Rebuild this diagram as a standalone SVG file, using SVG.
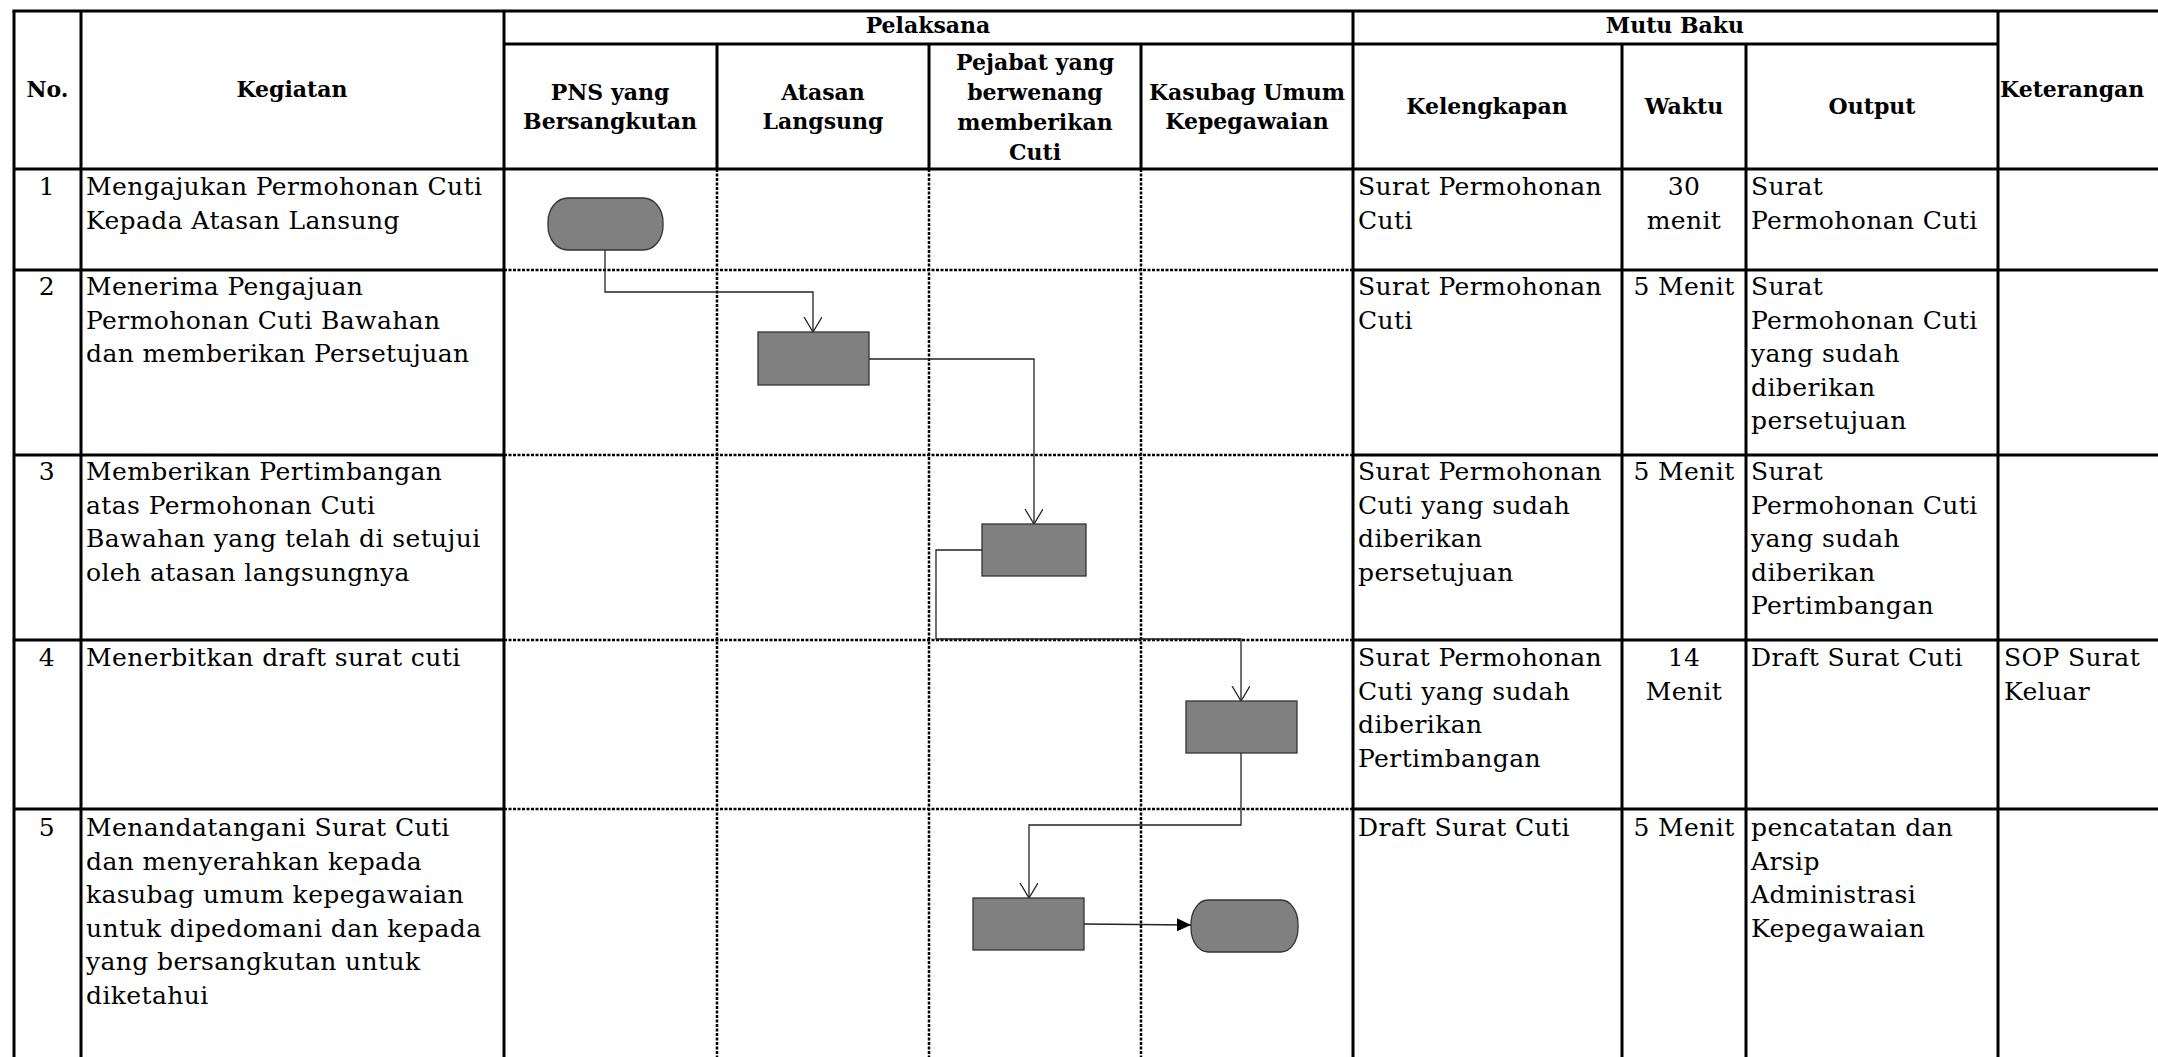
<svg xmlns="http://www.w3.org/2000/svg" width="2158" height="1057" viewBox="0 0 2158 1057">
<style>
.solid{stroke:#000;stroke-width:3;fill:none}
.dot{stroke:#000;stroke-width:2.5;stroke-dasharray:3 1.5;fill:none}
.h{font-family:"DejaVu Serif","Liberation Serif",serif;font-weight:bold;font-size:22px;text-anchor:middle;fill:#000}
.b{font-family:"DejaVu Serif","Liberation Serif",serif;font-size:25px;letter-spacing:0.4px;fill:#000}
.c{text-anchor:middle}
.shape{fill:#808080;stroke:#333;stroke-width:1.3}
.conn{fill:none;stroke:#222;stroke-width:1.3}
</style>
<defs>
<marker id="vArrow" markerWidth="20" markerHeight="20" refX="15" refY="9" orient="auto" markerUnits="userSpaceOnUse">
<path d="M0,0 L15,9 L0,18" fill="none" stroke="#222" stroke-width="1.3"/>
</marker>
<marker id="fArrow" markerWidth="16" markerHeight="14" refX="14" refY="6.5" orient="auto" markerUnits="userSpaceOnUse">
<path d="M0,0 L14,6.5 L0,13 Z" fill="#000"/>
</marker>
</defs>
<rect width="2158" height="1057" fill="#fff"/>

<g id="grid">
<line class="dot" x1="717" y1="169" x2="717" y2="1057"/>
<line class="dot" x1="929" y1="169" x2="929" y2="1057"/>
<line class="dot" x1="1141" y1="169" x2="1141" y2="1057"/>
<line class="dot" x1="504" y1="270" x2="1353" y2="270"/>
<line class="dot" x1="504" y1="455" x2="1353" y2="455"/>
<line class="dot" x1="504" y1="640" x2="1353" y2="640"/>
<line class="dot" x1="504" y1="809" x2="1353" y2="809"/>
<line class="solid" x1="12.5" y1="11" x2="2158" y2="11"/>
<line class="solid" x1="504" y1="44" x2="1998" y2="44"/>
<line class="solid" x1="14" y1="169" x2="2158" y2="169"/>
<line class="solid" x1="14" y1="11" x2="14" y2="1057"/>
<line class="solid" x1="81" y1="11" x2="81" y2="1057"/>
<line class="solid" x1="504" y1="11" x2="504" y2="1057"/>
<line class="solid" x1="1353" y1="11" x2="1353" y2="1057"/>
<line class="solid" x1="1622" y1="44" x2="1622" y2="1057"/>
<line class="solid" x1="1746" y1="44" x2="1746" y2="1057"/>
<line class="solid" x1="1998" y1="11" x2="1998" y2="1057"/>
<line class="solid" x1="717" y1="44" x2="717" y2="169"/>
<line class="solid" x1="929" y1="44" x2="929" y2="169"/>
<line class="solid" x1="1141" y1="44" x2="1141" y2="169"/>
<line class="solid" x1="14" y1="270" x2="504" y2="270"/>
<line class="solid" x1="14" y1="455" x2="504" y2="455"/>
<line class="solid" x1="14" y1="640" x2="504" y2="640"/>
<line class="solid" x1="14" y1="809" x2="504" y2="809"/>
<line class="solid" x1="1353" y1="270" x2="2158" y2="270"/>
<line class="solid" x1="1353" y1="455" x2="2158" y2="455"/>
<line class="solid" x1="1353" y1="640" x2="2158" y2="640"/>
<line class="solid" x1="1353" y1="809" x2="2158" y2="809"/>
</g>

<g id="header">
<text class="h" x="47.5" y="97">No.</text>
<text class="h" x="292" y="97">Kegiatan</text>
<text class="h" x="928" y="33">Pelaksana</text>
<text class="h" x="1675" y="33">Mutu Baku</text>
<text class="h" x="610" y="100">PNS yang<tspan x="610" dy="29">Bersangkutan</tspan></text>
<text class="h" x="823" y="100">Atasan<tspan x="823" dy="29">Langsung</tspan></text>
<text class="h" x="1035" y="70">Pejabat yang<tspan x="1035" dy="30">berwenang</tspan><tspan x="1035" dy="30">memberikan</tspan><tspan x="1035" dy="30">Cuti</tspan></text>
<text class="h" x="1247" y="100">Kasubag Umum<tspan x="1247" dy="29">Kepegawaian</tspan></text>
<text class="h" x="1487" y="114">Kelengkapan</text>
<text class="h" x="1684" y="114">Waktu</text>
<text class="h" x="1872" y="114">Output</text>
<text class="h" x="2000" y="97" style="text-anchor:start">Keterangan</text>
</g>

<g id="row1">
<text class="b c" x="47" y="195">1</text>
<text class="b" x="86" y="195">Mengajukan Permohonan Cuti<tspan x="86" dy="33.5">Kepada Atasan Lansung</tspan></text>
<text class="b" x="1358" y="195">Surat Permohonan<tspan x="1358" dy="33.5">Cuti</tspan></text>
<text class="b c" x="1684" y="195">30<tspan x="1684" dy="33.5">menit</tspan></text>
<text class="b" x="1751" y="195">Surat<tspan x="1751" dy="33.5">Permohonan Cuti</tspan></text>
</g>

<g id="row2">
<text class="b c" x="47" y="295">2</text>
<text class="b" x="86" y="295">Menerima Pengajuan<tspan x="86" dy="33.5">Permohonan Cuti Bawahan</tspan><tspan x="86" dy="33.5">dan memberikan Persetujuan</tspan></text>
<text class="b" x="1358" y="295">Surat Permohonan<tspan x="1358" dy="33.5">Cuti</tspan></text>
<text class="b c" x="1684" y="295">5 Menit</text>
<text class="b" x="1751" y="295">Surat<tspan x="1751" dy="33.5">Permohonan Cuti</tspan><tspan x="1751" dy="33.5">yang sudah</tspan><tspan x="1751" dy="33.5">diberikan</tspan><tspan x="1751" dy="33.5">persetujuan</tspan></text>
</g>

<g id="row3">
<text class="b c" x="47" y="480">3</text>
<text class="b" x="86" y="480">Memberikan Pertimbangan<tspan x="86" dy="33.5">atas Permohonan Cuti</tspan><tspan x="86" dy="33.5">Bawahan yang telah di setujui</tspan><tspan x="86" dy="33.5">oleh atasan langsungnya</tspan></text>
<text class="b" x="1358" y="480">Surat Permohonan<tspan x="1358" dy="33.5">Cuti yang sudah</tspan><tspan x="1358" dy="33.5">diberikan</tspan><tspan x="1358" dy="33.5">persetujuan</tspan></text>
<text class="b c" x="1684" y="480">5 Menit</text>
<text class="b" x="1751" y="480">Surat<tspan x="1751" dy="33.5">Permohonan Cuti</tspan><tspan x="1751" dy="33.5">yang sudah</tspan><tspan x="1751" dy="33.5">diberikan</tspan><tspan x="1751" dy="33.5">Pertimbangan</tspan></text>
</g>

<g id="row4">
<text class="b c" x="47" y="666">4</text>
<text class="b" x="86" y="666">Menerbitkan draft surat cuti</text>
<text class="b" x="1358" y="666">Surat Permohonan<tspan x="1358" dy="33.5">Cuti yang sudah</tspan><tspan x="1358" dy="33.5">diberikan</tspan><tspan x="1358" dy="33.5">Pertimbangan</tspan></text>
<text class="b c" x="1684" y="666">14<tspan x="1684" dy="33.5">Menit</tspan></text>
<text class="b" x="1751" y="666">Draft Surat Cuti</text>
<text class="b" x="2004" y="666">SOP Surat<tspan x="2004" dy="33.5">Keluar</tspan></text>
</g>

<g id="row5">
<text class="b c" x="47" y="836">5</text>
<text class="b" x="86" y="836">Menandatangani Surat Cuti<tspan x="86" dy="33.5">dan menyerahkan kepada</tspan><tspan x="86" dy="33.5">kasubag umum kepegawaian</tspan><tspan x="86" dy="33.5">untuk dipedomani dan kepada</tspan><tspan x="86" dy="33.5">yang bersangkutan untuk</tspan><tspan x="86" dy="33.5">diketahui</tspan></text>
<text class="b" x="1358" y="836">Draft Surat Cuti</text>
<text class="b c" x="1684" y="836">5 Menit</text>
<text class="b" x="1751" y="836">pencatatan dan<tspan x="1751" dy="33.5">Arsip</tspan><tspan x="1751" dy="33.5">Administrasi</tspan><tspan x="1751" dy="33.5">Kepegawaian</tspan></text>
</g>

<g id="connectors">
<path class="conn" d="M605,250 V292 H813 V332" marker-end="url(#vArrow)"/>
<path class="conn" d="M869,359 H1034 V524" marker-end="url(#vArrow)"/>
<path class="conn" d="M982,550 H936 V639 H1241 V701" marker-end="url(#vArrow)"/>
<path class="conn" d="M1241,753 V825 H1029 V898" marker-end="url(#vArrow)"/>
<path class="conn" d="M1084,924 L1191,925" marker-end="url(#fArrow)"/>
</g>

<g id="node-start"><rect class="shape" x="548" y="198" width="115" height="52" rx="20" ry="24"/></g>
<g id="node-2"><rect class="shape" x="758" y="332" width="111" height="53"/></g>
<g id="node-3"><rect class="shape" x="982" y="524" width="104" height="52"/></g>
<g id="node-4"><rect class="shape" x="1186" y="701" width="111" height="52"/></g>
<g id="node-5"><rect class="shape" x="973" y="898" width="111" height="52"/></g>
<g id="node-end"><rect class="shape" x="1191" y="900" width="107" height="52" rx="17" ry="24"/></g>
</svg>
